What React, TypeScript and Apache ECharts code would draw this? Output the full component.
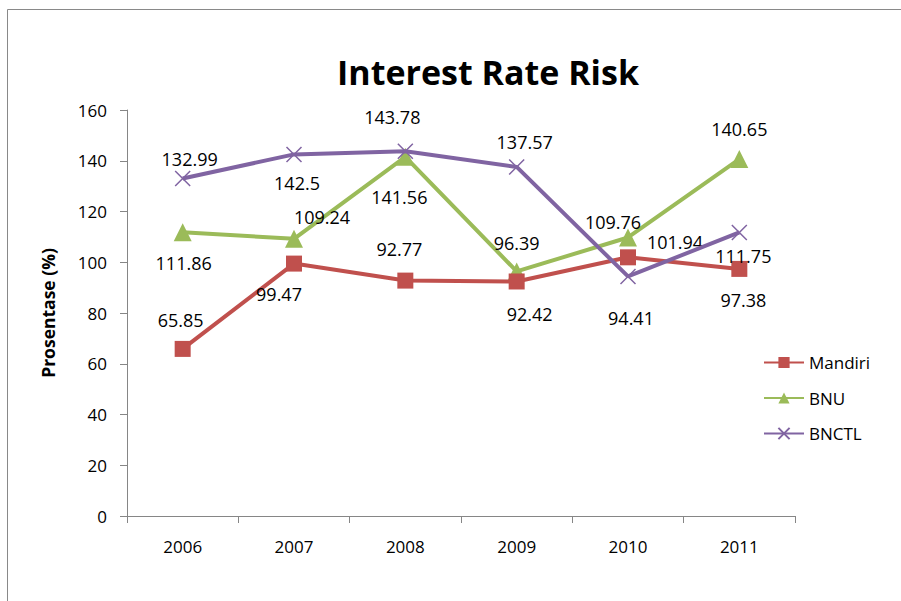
import React, { useEffect, useRef } from "react";
import * as echarts from "echarts";

const years = ["2006", "2007", "2008", "2009", "2010", "2011"];
const mandiri = [65.85, 99.47, 92.77, 92.42, 101.94, 97.38];
const bnu = [111.86, 109.24, 141.56, 96.39, 109.76, 140.65];
const bnctl = [132.99, 142.5, 143.78, 137.57, 94.41, 111.75];

// label offsets (style only) relative to each point
const mandiriLabelOffsets = [[-2, -29], [-15, 30], [-6, -32], [13, 33], [47, -15], [4, 31]];
const bnuLabelOffsets = [[1, 31], [28, -22], [-6, 40], [0, -28], [-15, -15], [0, -30]];
const bnctlLabelOffsets = [[7, -20], [3, 29], [-13, -34], [8, -25], [3, 42], [4, 24]];

const FONT = "'Open Sans', 'Noto Sans', sans-serif";

function withLabels(values: number[], offsets: number[][]) {
  return values.map((v, i) => ({
    value: v,
    label: { offset: offsets[i] },
  }));
}

export default function App() {
  const ref = useRef<HTMLDivElement>(null);
  useEffect(() => {
    if (!ref.current) return;
    const chart = echarts.init(ref.current, null, { renderer: "svg" });
    const labelBase = {
      show: true,
      position: "inside",
      align: "center",
      verticalAlign: "middle",
      fontFamily: FONT,
      fontSize: 18,
      color: "#000",
    };
    chart.setOption({
      animation: false,
      backgroundColor: "#fff",
      title: {
        text: "Interest Rate Risk",
        left: 483,
        top: 50,
        textAlign: "center",
        textStyle: { fontFamily: FONT, fontSize: 34, fontWeight: "bold", color: "#000" },
      },
      graphic: [
        {
          type: "rect",
          left: 5,
          top: 7,
          shape: { width: 1000, height: 700 },
          style: { fill: "none", stroke: "#898989", lineWidth: 1 },
          z: -1,
        },
      ],
      legend: {
        orient: "vertical",
        left: 758,
        top: 349,
        itemWidth: 40,
        itemHeight: 14,
        itemGap: 18.5,
        textStyle: { fontFamily: FONT, fontSize: 17, color: "#000" },
        lineStyle: { width: 2 },
        data: ["Mandiri", "BNU", "BNCTL"],
      },
      grid: { left: 127, right: 106, top: 110, bottom: 85 },
      xAxis: {
        type: "category",
        data: years,
        boundaryGap: true,
        axisLine: { lineStyle: { color: "#868686", width: 1 } },
        axisTick: { show: true, length: 7, lineStyle: { color: "#868686" } },
        axisLabel: { margin: 22, fontFamily: FONT, fontSize: 17, color: "#000" },
      },
      yAxis: {
        type: "value",
        min: 0,
        max: 160,
        interval: 20,
        name: "Prosentase (%)",
        nameLocation: "middle",
        nameGap: 70,
        nameTextStyle: { fontFamily: FONT, fontSize: 17.5, fontWeight: "bold", color: "#000" },
        splitLine: { show: false },
        axisLine: { show: true, lineStyle: { color: "#868686", width: 1 } },
        axisTick: { show: true, length: 7, lineStyle: { color: "#868686" } },
        axisLabel: { margin: 20, fontFamily: FONT, fontSize: 17, color: "#000" },
      },
      series: [
        {
          name: "Mandiri",
          type: "line",
          data: withLabels(mandiri, mandiriLabelOffsets),
          symbol: "rect",
          symbolSize: 16,
          color: "#C0504D",
          lineStyle: { width: 4, color: "#C0504D" },
          itemStyle: { color: "#C0504D" },
          label: labelBase,
          z: 3,
        },
        {
          name: "BNU",
          type: "line",
          data: withLabels(bnu, bnuLabelOffsets),
          symbol: "triangle",
          symbolSize: 18,
          color: "#9BBB59",
          lineStyle: { width: 4, color: "#9BBB59" },
          itemStyle: { color: "#9BBB59" },
          label: labelBase,
          z: 2,
        },
        {
          name: "BNCTL",
          type: "line",
          data: withLabels(bnctl, bnctlLabelOffsets),
          symbol: "path://M0,0L10,10M10,0L0,10",
          symbolSize: 15,
          color: "#8064A2",
          lineStyle: { width: 4, color: "#8064A2" },
          itemStyle: { color: "#8064A2", borderColor: "#8064A2", borderWidth: 1.5 },
          label: labelBase,
          z: 4,
        },
      ],
    });
    return () => chart.dispose();
  }, []);
  return (
    <div
      ref={ref}
      style={{ position: "fixed", left: 0, top: 0, width: 901, height: 601 }}
    />
  );
}
